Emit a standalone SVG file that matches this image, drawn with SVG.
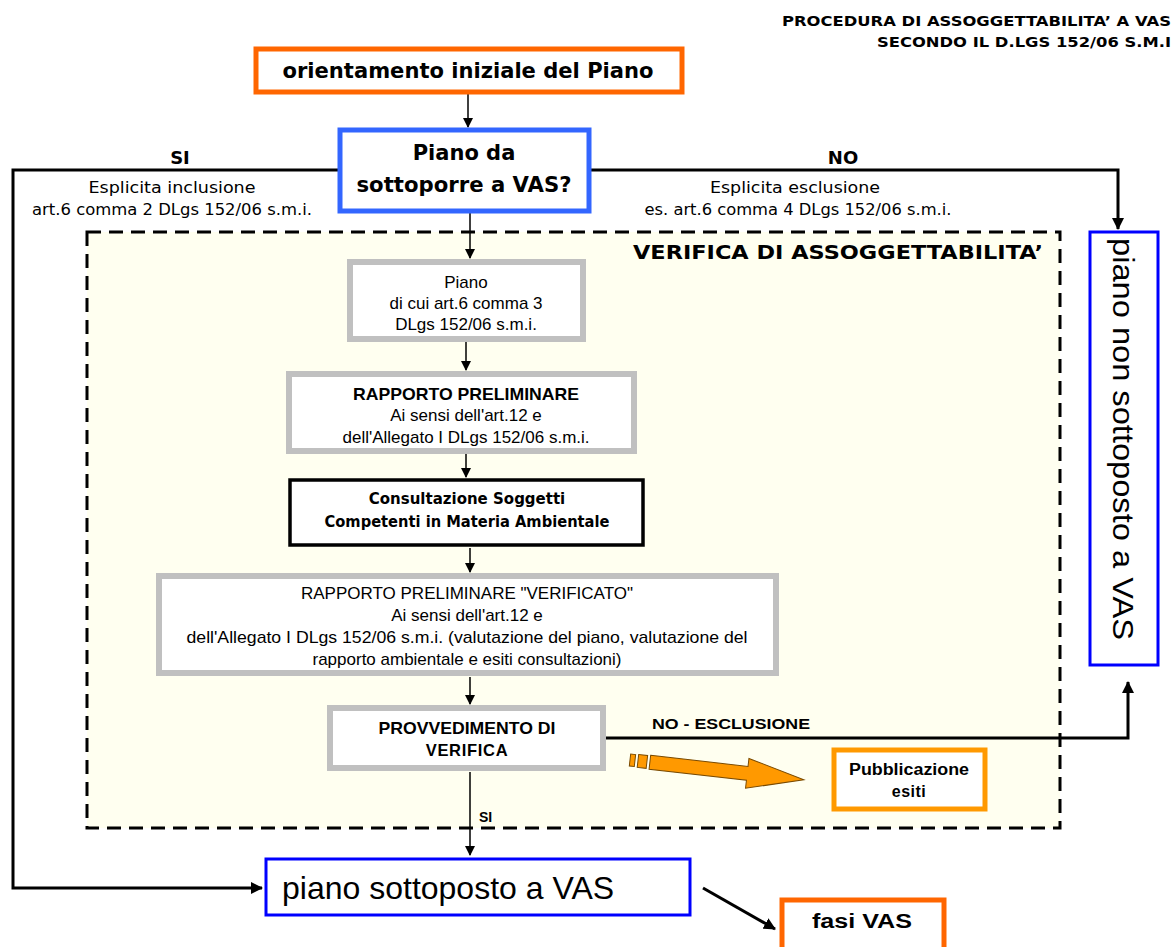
<svg xmlns="http://www.w3.org/2000/svg" width="1174" height="947" viewBox="0 0 1174 947">
<style>
.v{font-family:"DejaVu Sans","Liberation Sans",sans-serif}
.a{font-family:"Liberation Sans",Arial,sans-serif}
.b{font-weight:bold}
.c{text-anchor:middle}
.grey{fill:#fff;stroke:#C0C0C0;stroke-width:6}
.thin{stroke:#000;stroke-width:1.5;fill:none}
.thick{stroke:#000;stroke-width:3;fill:none}
.g{font-size:17px}
</style>
<defs>
<marker id="ah" markerWidth="10" markerHeight="10" refX="9" refY="5" orient="auto" markerUnits="userSpaceOnUse">
<path d="M0,0 L10,5 L0,10 z" fill="#000"/>
</marker>
<marker id="ah2" markerWidth="12" markerHeight="12" refX="11" refY="6" orient="auto" markerUnits="userSpaceOnUse">
<path d="M0,0 L12,6 L0,12 z" fill="#000"/>
</marker>
</defs>
<rect width="1174" height="947" fill="#fff"/>

<g id="title">
<text class="v b" x="1171" y="26" font-size="14" text-anchor="end" textLength="389" lengthAdjust="spacingAndGlyphs">PROCEDURA DI ASSOGGETTABILITA’ A VAS</text>
<text class="v b" x="1171" y="47" font-size="14" text-anchor="end" textLength="294" lengthAdjust="spacingAndGlyphs">SECONDO IL D.LGS 152/06 S.M.I</text>
</g>

<g id="verifica-area">
<rect x="87" y="232" width="973" height="596" fill="#FFFFF0" stroke="#000" stroke-width="3" stroke-dasharray="14,8"/>
<text class="v b" x="1043" y="259" font-size="20" text-anchor="end" textLength="410" lengthAdjust="spacingAndGlyphs">VERIFICA DI ASSOGGETTABILITA’</text>
</g>

<g id="connectors">
<line class="thin" x1="468" y1="93" x2="468" y2="127" marker-end="url(#ah)"/>
<polyline class="thick" points="338,170 13,170 13,888 262,888" marker-end="url(#ah2)"/>
<polyline class="thick" points="590,170 1118,170 1118,229" marker-end="url(#ah2)"/>
<line class="thin" x1="470" y1="212" x2="470" y2="258" marker-end="url(#ah)"/>
<line class="thin" x1="466" y1="341" x2="466" y2="370" marker-end="url(#ah)"/>
<line class="thin" x1="466" y1="453" x2="466" y2="477" marker-end="url(#ah)"/>
<line class="thin" x1="470" y1="548" x2="470" y2="572" marker-end="url(#ah)"/>
<line class="thin" x1="470" y1="677" x2="470" y2="704" marker-end="url(#ah)"/>
<line class="thin" x1="470" y1="772" x2="470" y2="855" marker-end="url(#ah)"/>
<polyline class="thick" points="605,738 1128,738 1128,682" marker-end="url(#ah2)"/>
<line x1="703" y1="888" x2="775" y2="929" stroke="#000" stroke-width="3" marker-end="url(#ah2)"/>
<text class="v b c" x="180" y="164" font-size="18">SI</text>
<text class="v c" x="172" y="193" font-size="16" textLength="167" lengthAdjust="spacingAndGlyphs">Esplicita inclusione</text>
<text class="v c" x="172" y="215" font-size="16" textLength="280" lengthAdjust="spacingAndGlyphs">art.6 comma 2 DLgs 152/06 s.m.i.</text>
<text class="v b c" x="843" y="164" font-size="18">NO</text>
<text class="v c" x="795" y="193" font-size="16" textLength="170" lengthAdjust="spacingAndGlyphs">Esplicita esclusione</text>
<text class="v c" x="798" y="215" font-size="16" textLength="307" lengthAdjust="spacingAndGlyphs">es. art.6 comma 4 DLgs 152/06 s.m.i.</text>
<text class="a b" x="652" y="729" font-size="15" textLength="158" lengthAdjust="spacingAndGlyphs">NO - ESCLUSIONE</text>
<text class="a b" x="479" y="822" font-size="14">SI</text>
<g transform="translate(630,760) rotate(6.5)" fill="#FF9900" stroke="#7A4A00" stroke-width="1">
<rect x="0" y="-6" width="5" height="12"/>
<rect x="8" y="-6.5" width="9" height="13"/>
<polygon points="20,-7 118,-7 118,-15 175,0 118,15 118,7 20,7"/>
</g>
</g>

<g id="n-orientamento">
<rect x="256" y="49" width="426" height="43" fill="#fff" stroke="#FF6600" stroke-width="5"/>
<text class="v b c" x="468" y="78" font-size="21" textLength="371" lengthAdjust="spacingAndGlyphs">orientamento iniziale del Piano</text>
</g>

<g id="n-piano-da">
<rect x="340" y="130" width="249" height="81" fill="#fff" stroke="#3366FF" stroke-width="5"/>
<text class="v b c" x="464" y="160" font-size="21">Piano da</text>
<text class="v b c" x="464" y="192" font-size="21" textLength="215" lengthAdjust="spacingAndGlyphs">sottoporre a VAS?</text>
</g>

<g id="n-non-sottoposto">
<rect x="1090" y="232" width="68" height="433" fill="#fff" stroke="#0000FF" stroke-width="3"/>
<text class="a" transform="translate(1113,238) rotate(90)" font-size="30" textLength="402" lengthAdjust="spacingAndGlyphs">piano non sottoposto a VAS</text>
</g>

<g id="n-piano-art6">
<rect class="grey" x="350" y="262" width="233" height="77"/>
<text class="a c g" x="466" y="288">Piano</text>
<text class="a c g" x="466" y="309">di cui art.6 comma 3</text>
<text class="a c g" x="466" y="330">DLgs 152/06 s.m.i.</text>
</g>

<g id="n-rapporto">
<rect class="grey" x="289" y="374" width="345" height="77"/>
<text class="a b c" x="466" y="400" font-size="17" textLength="226" lengthAdjust="spacingAndGlyphs">RAPPORTO PRELIMINARE</text>
<text class="a c g" x="466" y="421">Ai sensi dell'art.12 e</text>
<text class="a c g" x="466" y="443">dell'Allegato I DLgs 152/06 s.m.i.</text>
</g>

<g id="n-consultazione">
<rect x="290" y="480" width="353" height="65" fill="#fff" stroke="#000" stroke-width="3.5"/>
<text class="v b c" x="467" y="504" font-size="15">Consultazione Soggetti</text>
<text class="v b c" x="467" y="527" font-size="15" textLength="285" lengthAdjust="spacingAndGlyphs">Competenti in Materia Ambientale</text>
</g>

<g id="n-verificato">
<rect class="grey" x="159" y="576" width="617" height="97"/>
<text class="a c g" x="467" y="599">RAPPORTO PRELIMINARE "VERIFICATO"</text>
<text class="a c g" x="467" y="621">Ai sensi dell'art.12 e</text>
<text class="a c g" x="467" y="643" textLength="561" lengthAdjust="spacingAndGlyphs">dell'Allegato I DLgs 152/06 s.m.i. (valutazione del piano, valutazione del</text>
<text class="a c g" x="467" y="665">rapporto ambientale e esiti consultazioni)</text>
</g>

<g id="n-provvedimento">
<rect class="grey" x="330" y="708" width="273" height="60"/>
<text class="a b c" x="467" y="734" font-size="16.5" textLength="177" lengthAdjust="spacingAndGlyphs">PROVVEDIMENTO DI</text>
<text class="a b c" x="467" y="756" font-size="16.5" letter-spacing="0.7">VERIFICA</text>
</g>

<g id="n-pubblicazione">
<rect x="834" y="750" width="151" height="59" fill="#fff" stroke="#FF9900" stroke-width="5"/>
<text class="a b c" x="909" y="775" font-size="16" textLength="120" lengthAdjust="spacingAndGlyphs">Pubblicazione</text>
<text class="a b c" x="909" y="797" font-size="16" letter-spacing="0.5">esiti</text>
</g>

<g id="n-sottoposto">
<rect x="266" y="859" width="424" height="56" fill="#fff" stroke="#0000FF" stroke-width="3"/>
<text class="a" x="282" y="899" font-size="32">piano sottoposto a VAS</text>
</g>

<g id="n-fasi">
<rect x="782" y="900" width="162" height="60" fill="#fff" stroke="#FF6600" stroke-width="5"/>
<text class="a b c" x="862" y="928" font-size="20" textLength="100" lengthAdjust="spacingAndGlyphs">fasi VAS</text>
</g>
</svg>
